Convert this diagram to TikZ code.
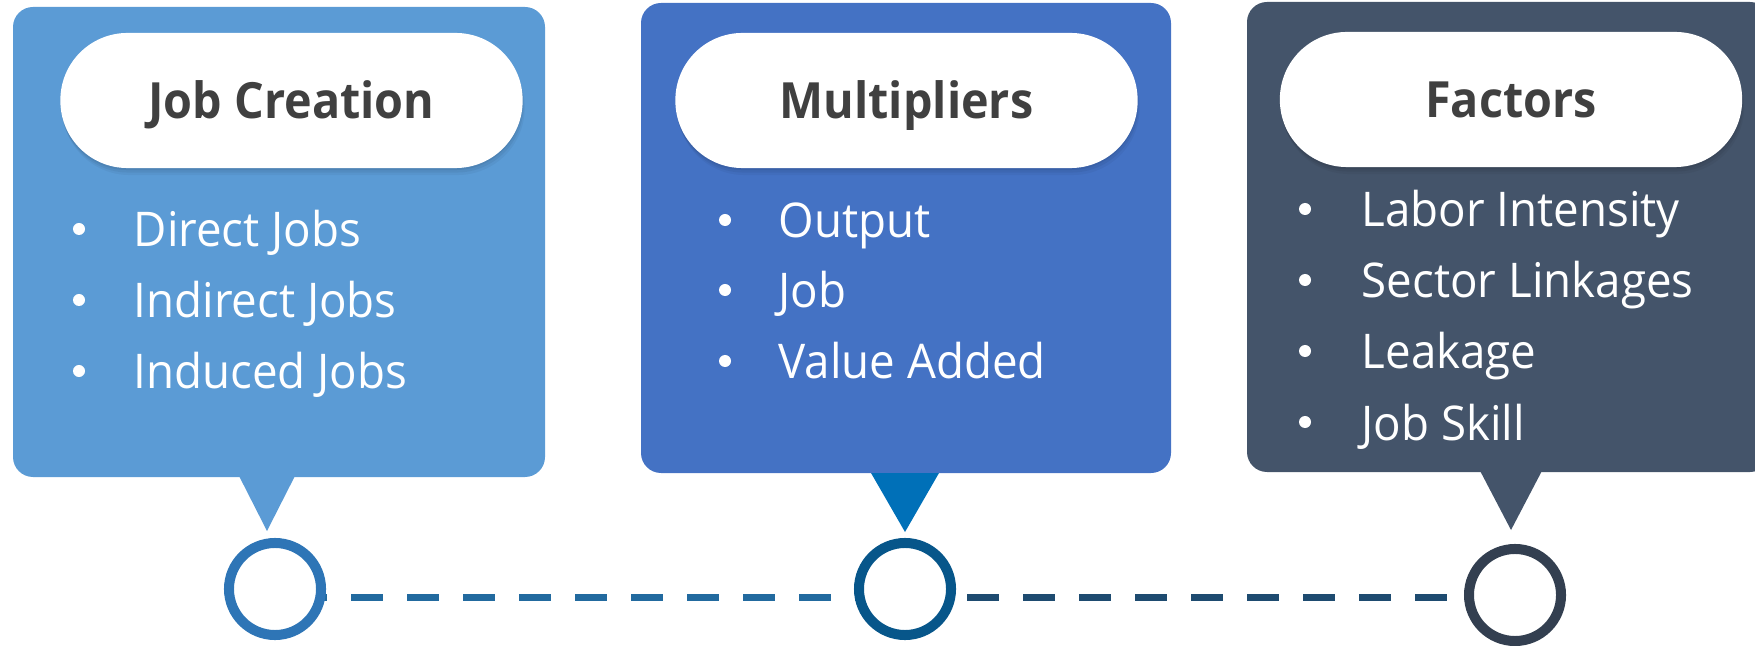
\documentclass[tikz,border=0pt]{standalone}
\usepackage{fontspec}
\setmainfont{Open Sans}
\usetikzlibrary{shadows}

\definecolor{boxA}{HTML}{5B9BD5}
\definecolor{boxB}{HTML}{4472C4}
\definecolor{boxC}{HTML}{44546A}
\definecolor{triB}{HTML}{0070B8}
\definecolor{ringA}{HTML}{2E75B6}
\definecolor{ringB}{HTML}{07568A}
\definecolor{ringC}{HTML}{333F50}
\definecolor{dashA}{HTML}{226A9F}
\definecolor{dashB}{HTML}{1E4B70}
\definecolor{titlegray}{HTML}{404040}

\newcommand{\ttlx}[1]{\scalebox{0.935}[1]{#1}}
\newcommand{\itmx}[1]{\scalebox{0.955}[1]{#1}}

\begin{document}
\begin{tikzpicture}[x=0.01cm,y=-0.01cm,
  panel/.style={rounded corners=0.2cm},
  pill/.style={fill=white, rounded corners=0.67cm, minimum width=4.62cm, minimum height=1.35cm, inner sep=0,
    general shadow={fill=black, opacity=0.04, shadow yshift=-0.07cm, shadow xshift=0.02cm},
    general shadow={fill=black, opacity=0.05, shadow yshift=-0.045cm, shadow xshift=0.01cm},
    general shadow={fill=black, opacity=0.06, shadow yshift=-0.02cm}},
  title/.style={anchor=base, inner sep=0, text=titlegray, font=\fontsize{14.2}{16}\selectfont\bfseries},
  item/.style={anchor=base west, inner sep=0, text=white, font=\fontsize{13.6}{16}\selectfont},
  dot/.style={circle, fill=white, minimum size=0.12cm, inner sep=0},
  ring/.style={circle, draw, line width=0.1cm, fill=white, minimum size=0.92cm, inner sep=0},
  dashline/.style={line width=0.07cm, dash pattern=on 0.32cm off 0.24cm}
]
\useasboundingbox (0,0) rectangle (1755,646);
\clip (0,0) rectangle (1755,646);

% panels
\fill[boxA, panel] (13,7) rectangle (545,477);
\fill[boxB, panel] (641,3) rectangle (1171,473);
\fill[boxC, panel] (1247,2) rectangle (1770,472);

% pointers
\fill[boxA] (236,470) -- (298,470) -- (267,531) -- cycle;
\fill[triB] (871,473) -- (939,473) -- (905,532) -- cycle;
\fill[boxC] (1477,465) -- (1545,465) -- (1511,530) -- cycle;

% pills
\node[pill] (p1) at (291.5,100.5) {};
\node[pill] (p2) at (906.5,100.5) {};
\node[pill] (p3) at (1511,99.5) {};

\node[title] (t1) at (291.5,119) {\ttlx{Job Creation}};
\node[title] (t2) at (906.5,119) {\ttlx{Multipliers}};
\node[title] (t3) at (1511,118) {\ttlx{Factors}};

% items box 1
\node[dot] (b11) at (79,229) {};
\node[item] (i11) at (133,247) {\itmx{Direct Jobs}};
\node[dot] (b12) at (79,300) {};
\node[item] (i12) at (133,318) {\itmx{Indirect Jobs}};
\node[dot] (b13) at (79,371) {};
\node[item] (i13) at (133,389) {\itmx{Induced Jobs}};

% items box 2
\node[dot] (b21) at (725,220) {};
\node[item] (i21) at (778,238) {\itmx{Output}};
\node[dot] (b22) at (725,290) {};
\node[item] (i22) at (778,308) {\itmx{Job}};
\node[dot] (b23) at (725,361) {};
\node[item] (i23) at (778,379) {\itmx{Value Added}};

% items box 3
\node[dot] (b31) at (1305,209) {};
\node[item] (i31) at (1361,227) {\itmx{Labor Intensity}};
\node[dot] (b32) at (1305,280) {};
\node[item] (i32) at (1361,298) {\itmx{Sector Linkages}};
\node[dot] (b33) at (1305,351) {};
\node[item] (i33) at (1361,369) {\itmx{Leakage}};
\node[dot] (b34) at (1305,422) {};
\node[item] (i34) at (1361,440) {\itmx{Job Skill}};

% timeline
\coordinate (ls) at (275,597);
\coordinate (lm) at (905,597);
\coordinate (le) at (1515,597);
\draw[dashline, dashA, dash phase=0.36cm] (ls) -- (lm);
\draw[dashline, dashB, dash phase=0.50cm] (lm) -- (le);

\node[ring, draw=ringA] (c1) at (275,589) {};
\node[ring, draw=ringB] (c2) at (905,589) {};
\node[ring, draw=ringC] (c3) at (1515,595) {};
\end{tikzpicture}
\end{document}
